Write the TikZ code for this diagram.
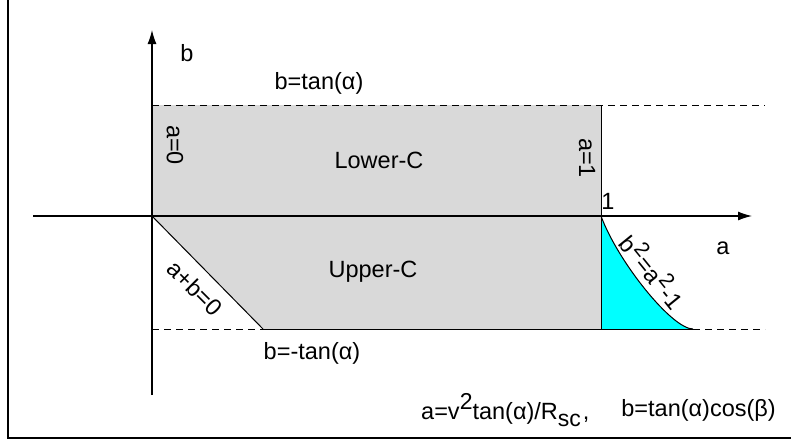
\documentclass[tikz,border=0pt]{standalone}
\usepackage{fontspec}
\setmainfont{Liberation Sans}
\usetikzlibrary{arrows.meta}
\definecolor{regiongray}{RGB}{217,217,217}
\definecolor{curvecyan}{RGB}{0,255,255}
\newcommand{\supn}[1]{\raisebox{9pt}{\fontsize{21}{21}\selectfont #1}}
\newcommand{\supf}[1]{\raisebox{10pt}{\fontsize{23}{23}\selectfont #1}}
\newcommand{\subf}[1]{\raisebox{-7pt}{\fontsize{23}{23}\selectfont #1}}
\begin{document}
\begin{tikzpicture}[x=1pt,y=-1pt,
  font=\fontsize{23.5}{27}\selectfont,
  axis/.style={line width=1.2pt,-{Latex[length=14pt,width=9pt]}},
  bound/.style={line width=1pt},
  dashbound/.style={line width=1pt,dash pattern=on 7pt off 5pt},
  lbl/.style={inner sep=0pt,anchor=center}]
\useasboundingbox (0,0) rectangle (791,440);
% frame
\coordinate (F1) at (8,-2);
\coordinate (F2) at (8,438);
\coordinate (F3) at (793,438);
\draw[line width=2pt] (F1) -- (F2) -- (F3);
% key points
\coordinate (O) at (152,216);
\coordinate (TL) at (152,105);
\coordinate (TR) at (601,105);
\coordinate (BR) at (601,329);
\coordinate (BL) at (263,329);
\coordinate (BL0) at (152,329);
\coordinate (A1) at (601,216);
\coordinate (CE) at (693,329);
\coordinate (TDE) at (765,105);
\coordinate (BDE) at (765,329);
\coordinate (YB) at (152,395);
\coordinate (YT) at (152,30);
\coordinate (XL) at (33,216);
\coordinate (XR) at (752,216);
% regions
\fill[regiongray] (TL) -- (TR) -- (BR) -- (BL) -- (O) -- cycle;
\fill[curvecyan] (A1) .. controls (618,262) and (672,329) .. (CE) -- (BR) -- cycle;
\draw[bound] (A1) .. controls (618,262) and (672,329) .. (CE);
\draw[bound] (O) -- (BL);
\draw[bound] (TR) -- (BR);
\draw[bound] (BL) -- (CE);
\draw[dashbound] (TL) -- (TDE);
\draw[dashbound] (BL0) -- (BL);
\draw[dashbound] (CE) -- (BDE);
% axes
\draw[axis] (YB) -- (YT);
\draw[axis] (XL) -- (XR);
% labels
\node[lbl] (lb) at (187,53) {b};
\node[lbl] (ltop) at (319,83) {b=tan(α)};
\node[lbl,rotate=-90] (la0) at (175,145) {a=0};
\node[lbl] (llow) at (379,160) {Lower-C};
\node[lbl,rotate=-90] (la1) at (587,158) {a=1};
\node[lbl] (lone) at (608,201) {1};
\node[lbl] (la) at (723,248) {a};
\node[lbl,rotate=-51] (lcurve) at (654,271) {b\supn{2}\kern1pt=a\supn{2}\kern1pt-1};
\node[lbl,rotate=-45] (lapb) at (195,288) {a+b=0};
\node[lbl] (lup) at (373,272) {Upper-C};
\node[lbl] (lbot) at (312,353) {b=-tan(α)};
\node[lbl,anchor=west] (lform1) at (421,410) {a=v\supf{2}tan(α)/R\subf{sc}\kern2pt,};
\node[lbl,anchor=east] (lform2) at (776,410) {b=tan(α)cos(β)};
\end{tikzpicture}
\end{document}
